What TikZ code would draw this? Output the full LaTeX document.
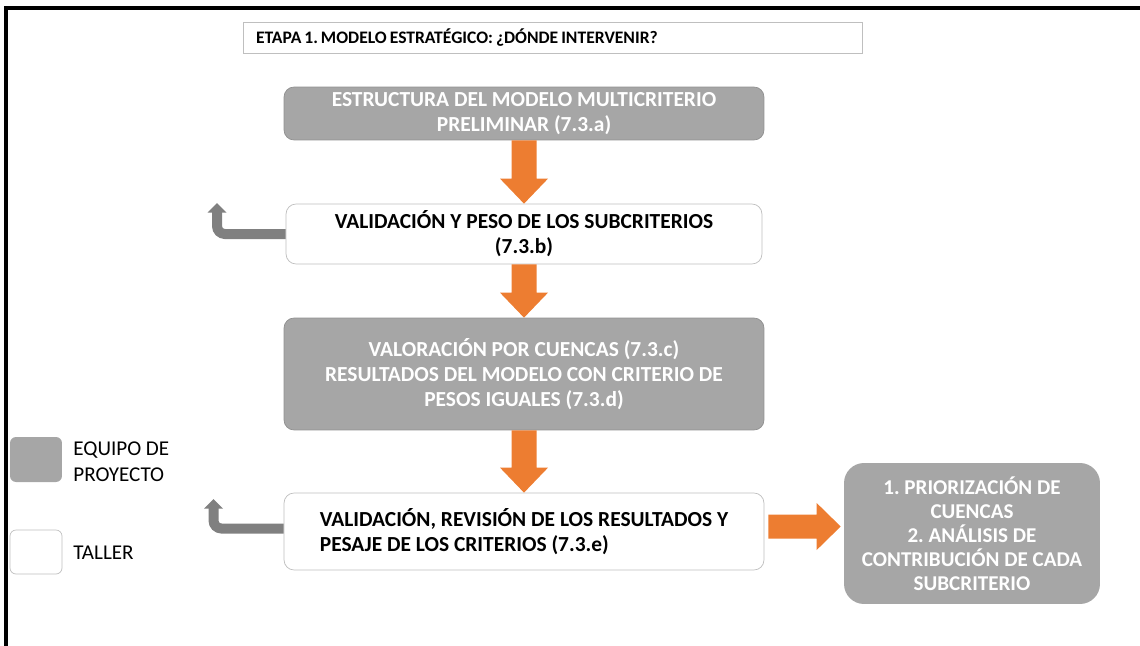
\documentclass[tikz,border=0pt]{standalone}
\usepackage{fontspec}
\setmainfont{Carlito}
\usetikzlibrary{calc}
\frenchspacing
\definecolor{grisequipo}{HTML}{A6A6A6}
\definecolor{bordegris}{HTML}{909090}
\definecolor{bordetaller}{HTML}{BFBFBF}
\definecolor{naranja}{HTML}{ED7D31}
\definecolor{grisvuelta}{HTML}{808080}
% flecha naranja hacia abajo entre dos cajas
\newcommand{\bajada}[2]{%
  \fill[naranja] ($(#1.south)+(-12.5,0)$) -- ($(#2.north)+(-12.5,-25)$) -- ($(#2.north)+(-24,-25)$)
    -- (#2.north) -- ($(#2.north)+(24,-25)$) -- ($(#2.north)+(12.5,-25)$) -- ($(#1.south)+(12.5,0)$) -- cycle;}

\begin{document}
\begin{tikzpicture}[x=0.02cm,y=-0.02cm,font=\fontsize{12.2}{14.2}\selectfont\bfseries,
  equipo/.style={draw=bordegris,fill=grisequipo,text=white,align=center,rounded corners=0.2cm,minimum width=9.6cm,inner sep=0pt},
  taller/.style={draw=bordetaller,fill=white,text=black,align=center,rounded corners=0.2cm,minimum width=9.52cm,inner sep=0pt},
  leyenda/.style={minimum width=1.04cm,minimum height=0.9cm,rounded corners=0.12cm,inner sep=0pt},
  textoley/.style={anchor=west,align=left,inner sep=0pt,font=\fontsize{12}{14.7}\selectfont},
  vuelta/.style={draw=grisvuelta,line width=0.2cm,rounded corners=0.16cm}]
\useasboundingbox (0,0) rectangle (1140,646);
\draw[line width=0.08cm] (1140,8) -| (6,646);
\node[draw=bordetaller,minimum height=0.62cm,text width=11.86cm,align=left,inner xsep=0.26cm,inner ysep=0pt,font=\fontsize{10}{12}\selectfont\bfseries] (titulo) at (552.5,37.5) {\spaceskip=0.17em ETAPA 1. MODELO ESTRATÉGICO: ¿DÓNDE INTERVENIR?};
\node[equipo,minimum height=1.06cm] (estructura) at (524,113.5) {ESTRUCTURA DEL MODELO MULTICRITERIO\\PRELIMINAR (7.3.a)};
\node[taller,minimum height=1.2cm] (validacion) at (524,234) {VALIDACIÓN Y PESO DE LOS SUBCRITERIOS\\(7.3.b)};
\node[equipo,minimum height=2.24cm] (valoracion) at (524,374) {VALORACIÓN POR CUENCAS (7.3.c)\\RESULTADOS DEL MODELO CON CRITERIO DE\\PESOS IGUALES (7.3.d)};
\node[taller,minimum width=9.6cm,minimum height=1.54cm,align=left] (revision) at (524,531.5) {VALIDACIÓN, REVISIÓN DE LOS RESULTADOS Y\\PESAJE DE LOS CRITERIOS (7.3.e)};
\node[equipo,draw=none,minimum width=5.12cm,minimum height=2.82cm,rounded corners=0.4cm,font=\fontsize{12}{13.6}\selectfont\bfseries] (priorizacion) at (972,533.5) {1. PRIORIZACIÓN DE\\CUENCAS\\2. ANÁLISIS DE\\CONTRIBUCIÓN DE CADA\\SUBCRITERIO};
\node[leyenda,fill=grisequipo] (leyequipo) at (36,459.5) {};
\node[leyenda,draw=bordetaller,minimum height=0.88cm] (leytaller) at (36,552) {};
\node[textoley] (txtequipo) at (73,462) {EQUIPO DE\\PROYECTO};
\node[textoley] (txttaller) at (73,553) {TALLER};
\bajada{estructura}{validacion}
\bajada{validacion}{valoracion}
\bajada{valoracion}{revision}
\coordinate (ini) at ($(revision.east)+(4,-5)$);
\coordinate (fin) at ($(priorizacion.west)+(-3,-7)$);
\fill[naranja] ($(ini)+(0,-12)$) -- ($(fin)+(-24,-12)$) -- ($(fin)+(-24,-23.5)$) -- (fin)
  -- ($(fin)+(-24,23.5)$) -- ($(fin)+(-24,12)$) -- ($(ini)+(0,12)$) -- cycle;
\coordinate (puntab) at (217,212);
\draw[vuelta] (validacion.west) -| (puntab);
\fill[grisvuelta] ($(puntab)+(-9.5,0.5)$) -- ($(puntab)+(0,-9)$) -- ($(puntab)+(9.5,0.5)$) -- cycle;
\coordinate (puntad) at (213.5,508);
\draw[vuelta] ($(revision.west)+(0,-3)$) -| (puntad);
\fill[grisvuelta] ($(puntad)+(-9.5,0.5)$) -- ($(puntad)+(0,-9)$) -- ($(puntad)+(9.5,0.5)$) -- cycle;
\end{tikzpicture}
\end{document}
